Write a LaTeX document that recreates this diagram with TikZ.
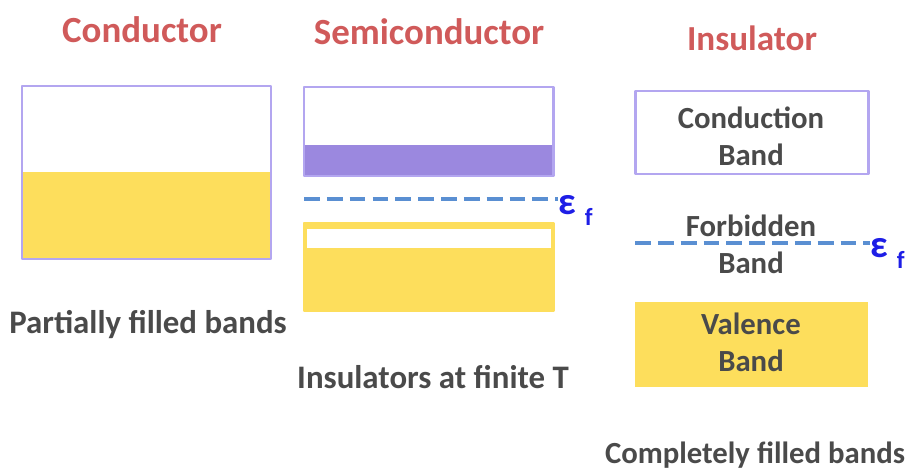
\documentclass[tikz,border=0pt]{standalone}
\usepackage{fontspec}
\setmainfont{Carlito}
\definecolor{bandline}{HTML}{B3A6F0}
\definecolor{bandfill}{HTML}{9B88DF}
\definecolor{bandyellow}{HTML}{FDDE5C}
\definecolor{fermiblue}{HTML}{5A8FD2}
\definecolor{epsblue}{HTML}{1E1EE6}
\definecolor{titlered}{HTML}{D05A5A}
\definecolor{lblgray}{HTML}{4A4A4A}
\tikzset{
  every picture/.style={line join=round},
  band/.style={draw=bandline, line width=1.7pt},
  yband/.style={draw=bandyellow, fill=bandyellow, line width=1.7pt},
  title/.style={text=titlered, font=\fontsize{21}{24}\selectfont\bfseries},
  lbl/.style={text=lblgray, font=\fontsize{17.5}{21}\selectfont\bfseries, align=center},
  biglbl/.style={lbl, font=\fontsize{18.7}{22}\selectfont\bfseries},
  fermi/.style={draw=fermiblue, line width=2.3pt, dash pattern=on 9pt off 4pt},
  eps/.style={text=epsblue, font=\fontsize{22}{24}\selectfont\bfseries, inner sep=0pt},
  sub/.style={text=epsblue, font=\fontsize{14}{16}\selectfont\bfseries, inner sep=0pt},
}

\begin{document}
\begin{tikzpicture}[x=0.02cm,y=-0.02cm]
\useasboundingbox (0,0) rectangle (905,469);
% titles
\node[title] (tcond) at (142,30) {Conductor};
\node[title] (tsemi) at (429,32) {Semiconductor};
\node[title, font=\fontsize{20}{24}\selectfont\bfseries] (tins) at (752,38) {Insulator};
% conductor
\fill[bandyellow] (22,172) rectangle (271,259);
\draw[band] (22,86) rectangle (271,259);
\node[biglbl] (lcond) at (148,325) {Partially filled bands};
% semiconductor
\fill[bandfill] (304,145) rectangle (553,176);
\draw[band] (304,87) rectangle (553,176);
\draw[yband] (304,223) rectangle (553,311);
\fill[white] (307,229) rectangle (551,248);
\node[eps,anchor=west] (ef1) at (558,205) {ε};
\node[sub] (sf1) at ([xshift=7pt,yshift=-7pt]ef1.east) {f};
\coordinate (fl1) at (304,199);
\draw[fermi] (fl1) -- (fl1 -| ef1.west);
\node[biglbl] (lsemi) at (433,377) {Insulators at finite T};
% insulator
\draw[band] (635,91) rectangle (868,174);
\node[lbl] (cb) at (751,136) {Conduction\\Band};
\node[lbl] (fb) at (751,244) {Forbidden\\Band};
\fill[bandyellow] (635,302) rectangle (868,387);
\node[lbl] (vb) at (751,342) {Valence\\Band};
\node[eps,anchor=west] (ef2) at (870,248) {ε};
\node[sub] (sf2) at ([xshift=7pt,yshift=-7pt]ef2.east) {f};
\coordinate (fl2) at (635,243);
\draw[fermi] (fl2) -- (fl2 -| ef2.west);
\node[lbl] (lins) at (755,455) {Completely filled bands};
\end{tikzpicture}
\end{document}
